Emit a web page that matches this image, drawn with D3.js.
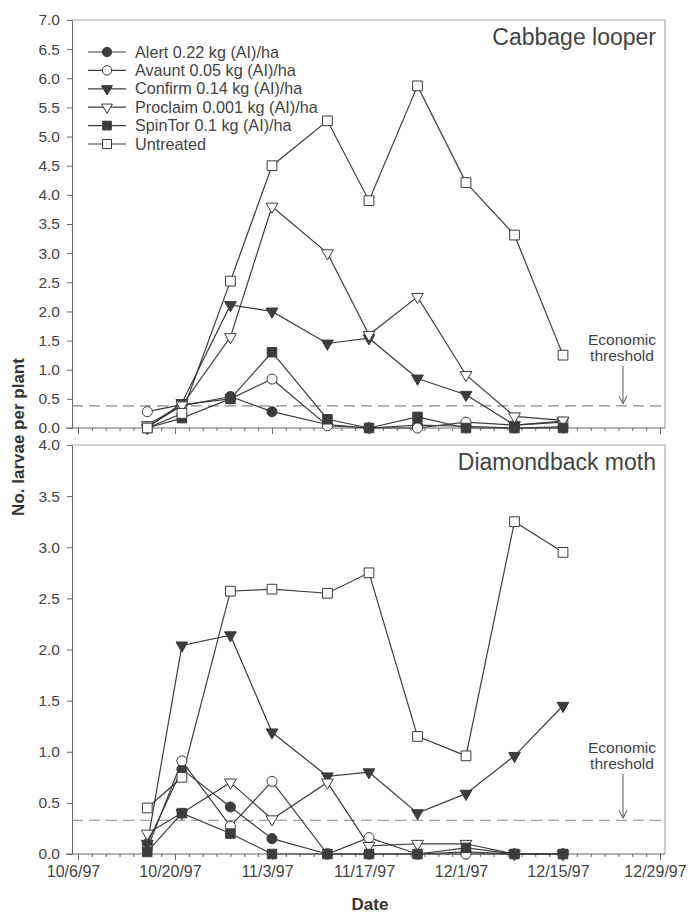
<!DOCTYPE html>
<html>
<head>
<meta charset="utf-8">
<script src="https://cdn.jsdelivr.net/npm/d3@7"></script>
<style>
  body { margin: 0; background: #fff; }
  svg { display: block; font-family: "Liberation Sans", Arial, sans-serif; }
</style>
</head>
<body>
<script>
// chart.js
const width = 688;
const height = 914;

const sample_dates = ['1997-10-16', '1997-10-21', '1997-10-28', '1997-11-03', '1997-11-11',
                      '1997-11-17', '1997-11-24', '1997-12-01', '1997-12-08', '1997-12-15'];

const series_names = ['Alert 0.22 kg (AI)/ha', 'Avaunt 0.05 kg (AI)/ha', 'Confirm 0.14 kg (AI)/ha',
                      'Proclaim 0.001 kg (AI)/ha', 'SpinTor 0.1 kg (AI)/ha', 'Untreated'];

// cabbage looper (top)
const alert_cl     = [0.02, 0.38, 0.54, 0.28, 0.06, 0.0, 0.05, 0.03, 0.0, 0.02];
const avaunt_cl    = [0.28, 0.40, 0.50, 0.84, 0.04, 0.0, 0.0, 0.10, 0.05, 0.10];
const confirm_cl   = [0.0, 0.43, 2.11, 2.00, 1.45, 1.54, 0.85, 0.57, 0.05, 0.12];
const proclaim_cl  = [0.05, 0.39, 1.56, 3.80, 3.00, 1.60, 2.25, 0.91, 0.20, 0.13];
const spintor_cl   = [0.0, 0.17, 0.50, 1.30, 0.15, 0.0, 0.19, 0.0, 0.0, 0.0];
const untreated_cl = [0.0, 0.25, 2.52, 4.50, 5.27, 3.90, 5.87, 4.21, 3.31, 1.25];

// diamondback moth (bottom)
const alert_dbm     = [0.10, 0.83, 0.46, 0.15, 0.0, 0.0, 0.0, 0.02, 0.0, 0.0];
const avaunt_dbm    = [0.05, 0.91, 0.27, 0.71, 0.0, 0.16, 0.0, 0.0, 0.0, 0.0];
const confirm_dbm   = [0.10, 2.04, 2.14, 1.19, 0.76, 0.80, 0.40, 0.59, 0.96, 1.45];
const proclaim_dbm  = [0.20, 0.40, 0.70, 0.34, 0.70, 0.08, 0.10, 0.10, 0.0, 0.0];
const spintor_dbm   = [0.02, 0.40, 0.20, 0.0, 0.0, 0.0, 0.0, 0.06, 0.0, 0.0];
const untreated_dbm = [0.45, 0.75, 2.57, 2.59, 2.55, 2.75, 1.15, 0.96, 3.25, 2.95];

const threshold_cl = 0.38;
const threshold_dbm = 0.33;

const x_tick_labels = ['10/6/97', '10/20/97', '11/3/97', '11/17/97', '12/1/97', '12/15/97', '12/29/97'];

const parse = d3.timeParse('%Y-%m-%d');
const dates = sample_dates.map(parse);

const markers = [
  {shape: d3.symbolCircle, size: 80, fill: '#3c3c3c'},
  {shape: d3.symbolCircle, size: 80, fill: '#fff'},
  {shape: d3.symbolTriangle, size: 60, fill: '#3c3c3c', flip: true},
  {shape: d3.symbolTriangle, size: 60, fill: '#fff', flip: true},
  {shape: d3.symbolSquare, size: 90, fill: '#3c3c3c'},
  {shape: d3.symbolSquare, size: 95, fill: '#fff'}
];

const ink = '#3c3c3c';
const textColor = '#444';

const x = d3.scaleTime()
  .domain([parse('1997-10-06'), parse('1997-12-29')])
  .range([78, 660]);
const frameLeft = 72, frameRight = 665;

const svg = d3.select('body').append('svg')
  .attr('width', width).attr('height', height);

const panels = [
  {title: 'Cabbage looper', top: 20, bottom: 428, ymax: 7,
   series: [alert_cl, avaunt_cl, confirm_cl, proclaim_cl, spintor_cl, untreated_cl],
   threshold: threshold_cl, legend: true, labels: false, econY: 340},
  {title: 'Diamondback moth', top: 445, bottom: 854, ymax: 4,
   series: [alert_dbm, avaunt_dbm, confirm_dbm, proclaim_dbm, spintor_dbm, untreated_dbm],
   threshold: threshold_dbm, legend: false, labels: true, econY: 748}
];

const majorTicks = x_tick_labels.map(s => d3.timeParse('%m/%d/%y')(s));
const minorTicks = d3.timeDay.range(parse('1997-10-06'), parse('1997-12-30'), 2);

for (const p of panels) {
  const y = d3.scaleLinear().domain([0, p.ymax]).range([p.bottom, p.top]);
  const g = svg.append('g');

  // frame (top and right, light)
  g.append('path')
    .attr('d', `M${frameLeft},${p.top}H${frameRight}V${p.bottom}`)
    .attr('fill', 'none').attr('stroke', '#a8a8a8').attr('stroke-width', 1.2);

  // y axis
  const yAxis = g.append('g')
    .attr('transform', `translate(${frameLeft},0)`)
    .call(d3.axisLeft(y).tickValues(d3.range(0, p.ymax + 0.01, 0.5))
      .tickFormat(d3.format('.1f')).tickSize(5).tickPadding(7).tickSizeOuter(0));
  yAxis.selectAll('path,line').attr('stroke', '#666');
  yAxis.selectAll('text').attr('font-size', 15.5).attr('fill', textColor)
    .attr('font-family', '"Liberation Sans", Arial, sans-serif');

  // x axis minor ticks
  const xMinor = g.append('g')
    .attr('transform', `translate(0,${p.bottom})`)
    .call(d3.axisBottom(x).tickValues(minorTicks).tickSize(3).tickFormat('').tickSizeOuter(0));
  xMinor.select('.domain').remove();
  xMinor.selectAll('line').attr('stroke', '#666');

  const xAxis = g.append('g')
    .attr('transform', `translate(0,${p.bottom})`)
    .call(d3.axisBottom(x).tickValues(majorTicks).tickSize(6).tickPadding(6)
      .tickFormat(p.labels ? (d, i) => x_tick_labels[i] : ''));
  xAxis.select('.domain').attr('d', `M${frameLeft - 6},0H${frameRight}`).attr('stroke', '#666');
  xAxis.selectAll('line').attr('stroke', '#666');
  xAxis.selectAll('text').attr('font-size', 16).attr('fill', textColor).attr('dx', -5)
    .attr('font-family', '"Liberation Sans", Arial, sans-serif');

  // threshold
  g.append('line')
    .attr('x1', frameLeft).attr('x2', frameRight)
    .attr('y1', y(p.threshold)).attr('y2', y(p.threshold))
    .attr('stroke', '#888').attr('stroke-width', 1.2).attr('stroke-dasharray', '11,6');
  const econ = g.append('text').attr('text-anchor', 'middle').attr('font-size', 15.5)
    .attr('fill', textColor);
  econ.append('tspan').attr('x', 622).attr('y', p.econY + 5).text('Economic');
  econ.append('tspan').attr('x', 622).attr('y', p.econY + 21).text('threshold');
  g.append('line').attr('x1', 623).attr('x2', 623)
    .attr('y1', p.econY + 26).attr('y2', y(p.threshold) - 3)
    .attr('stroke', '#555').attr('stroke-width', 1);
  g.append('path')
    .attr('d', `M619,${y(p.threshold) - 10}L623,${y(p.threshold) - 2}L627,${y(p.threshold) - 10}`)
    .attr('fill', 'none').attr('stroke', '#555').attr('stroke-width', 1);

  // title
  g.append('text').attr('x', 656).attr('y', p.top + 25)
    .attr('text-anchor', 'end').attr('font-size', 23).attr('fill', textColor)
    .text(p.title);

  // series
  const line = d3.line().x((d, i) => x(dates[i])).y(d => y(d));
  p.series.forEach((vals, si) => {
    g.append('path').datum(vals)
      .attr('fill', 'none').attr('stroke', ink).attr('stroke-width', 1.2)
      .attr('d', line);
  });
  p.series.forEach((vals, si) => {
    const m = markers[si];
    g.append('g').selectAll('path').data(vals).join('path')
      .attr('transform', (d, i) => `translate(${x(dates[i])},${y(d)})${m.flip ? ' rotate(180)' : ''}`)
      .attr('d', d3.symbol(m.shape, m.size))
      .attr('fill', m.fill).attr('stroke', ink).attr('stroke-width', 1);
  });

  if (p.legend) {
    const lg = g.append('g');
    series_names.forEach((name, i) => {
      const ry = 52 + i * 18.4;
      const m = markers[i];
      lg.append('line').attr('x1', 88).attr('x2', 126).attr('y1', ry).attr('y2', ry)
        .attr('stroke', ink).attr('stroke-width', 1.2);
      lg.append('path')
        .attr('transform', `translate(107,${ry})${m.flip ? ' rotate(180)' : ''}`)
        .attr('d', d3.symbol(m.shape, m.size * 0.85))
        .attr('fill', m.fill).attr('stroke', ink);
      lg.append('text').attr('x', 135).attr('y', ry + 5.5)
        .attr('font-size', 16.2).attr('fill', textColor).text(name);
    });
  }
}

// axis titles
svg.append('text')
  .attr('transform', 'translate(24,437) rotate(-90)')
  .attr('text-anchor', 'middle').attr('font-size', 17).attr('font-weight', 'bold')
  .attr('fill', '#333').text('No. larvae per plant');
svg.append('text')
  .attr('x', 370).attr('y', 910)
  .attr('text-anchor', 'middle').attr('font-size', 17).attr('font-weight', 'bold')
  .attr('fill', '#333').text('Date');
</script>
</body>
</html>
